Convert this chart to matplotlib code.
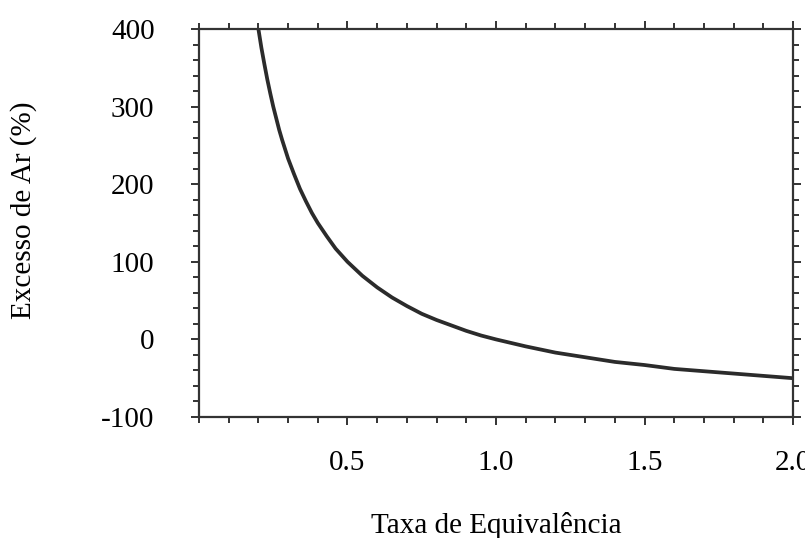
import numpy as np
import matplotlib.pyplot as plt
from matplotlib.ticker import MultipleLocator

# values
taxa = [0.2, 0.21, 0.22, 0.23, 0.24, 0.25, 0.26, 0.27, 0.28, 0.29, 0.3,
        0.32, 0.34, 0.36, 0.38, 0.4, 0.43, 0.46, 0.5, 0.55, 0.6, 0.65,
        0.7, 0.75, 0.8, 0.85, 0.9, 0.95, 1.0, 1.1, 1.2, 1.3, 1.4, 1.5,
        1.6, 1.7, 1.8, 1.9, 2.0]
excesso = [400, 376, 355, 335, 317, 300, 285, 270, 257, 245, 233,
           213, 194, 178, 163, 150, 133, 117, 100, 82, 67, 54,
           43, 33, 25, 18, 11, 5, 0, -9, -17, -23, -29, -33,
           -38, -41, -44, -47, -50]

x_ticks = [0.5, 1.0, 1.5, 2.0]
x_labels = ["0.5", "1.0", "1.5", "2.0"]
y_ticks = [-100, 0, 100, 200, 300, 400]
y_labels = ["-100", "0", "100", "200", "300", "400"]

plt.rcParams['font.family'] = ['Liberation Serif', 'DejaVu Serif']

fig = plt.figure(figsize=(8.05, 5.38), dpi=100)
ax = fig.add_axes([0.2472, 0.2249, 0.7379, 0.7212])

ax.plot(taxa, excesso, color='#2b2b2b', lw=2.7, solid_capstyle='butt',
        solid_joinstyle='round')

ax.set_xlim(0, 2.0)
ax.set_ylim(-100, 400)
ax.set_xticks(x_ticks, labels=x_labels)
ax.set_yticks(y_ticks, labels=y_labels)
ax.xaxis.set_minor_locator(MultipleLocator(0.1))
ax.yaxis.set_minor_locator(MultipleLocator(20))

for s in ax.spines.values():
    s.set_linewidth(1.6)
    s.set_color('#333333')

ax.tick_params(which='both', direction='out', top=True, right=True,
               color='#333333', width=1.4, labelsize=21)
ax.tick_params(which='major', length=6)
ax.tick_params(which='minor', length=4)
ax.tick_params(axis='x', which='major', pad=18)
ax.tick_params(axis='y', which='major', pad=26)

ax.set_xlabel("Taxa de Equivalência", fontsize=21, labelpad=26)
ax.set_ylabel("Excesso de Ar (%)", fontsize=21)
ax.yaxis.set_label_coords(-0.273, 0.534)

fig.savefig("out.png", dpi=100)
